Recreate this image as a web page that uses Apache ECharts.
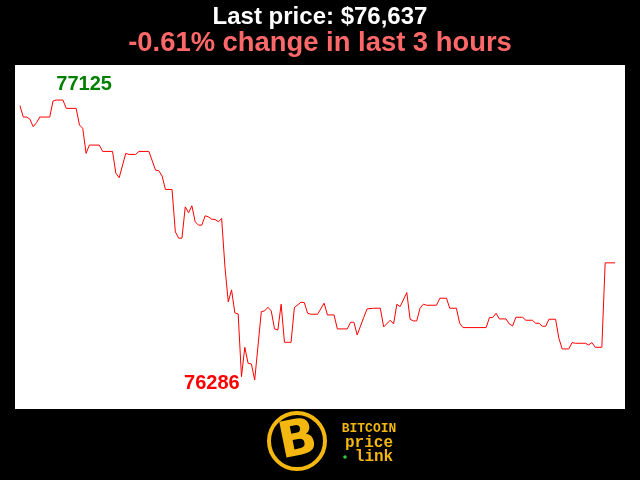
<!DOCTYPE html>
<html>
<head>
<meta charset="utf-8">
<script src="https://cdn.jsdelivr.net/npm/echarts@6/dist/echarts.min.js"></script>
<style>html,body{margin:0;padding:0;background:#000;}#c{width:640px;height:480px;}</style>
</head>
<body>
<div id="c"></div>
<script>
// minutes since start of the 3-hour window
var minutes = [0,1,2,3,4,5,6,9,10,11,13,14,17,18,19,20,21,24,25,28,29,30,32,33,35,36,39,41,42,43,44,46,47,48,49,50,51,52,53,54,55,56,57,58,59,60,61,62,63,64,65,66,67,68,69,70,71,73,74,75,76,77,78,79,80,82,83,85,86,87,88,90,92,93,95,96,99,100,101,102,104,105,107,109,110,112,113,114,115,117,118,119,120,121,122,123,126,127,129,130,132,133,134,141,142,143,144,145,147,148,149,150,152,153,155,156,157,158,159,160,162,163,164,166,167,168,171,172,173,174,176,177,180];
// BTC price (USD)
var prices = [77108,77074,77074,77068,77045,77057,77074,77074,77122,77125,77125,77100,77100,77050,77040,76965,76990,76990,76971,76971,76906,76892,76965,76962,76962,76971,76971,76915,76913,76897,76857,76857,76730,76711,76711,76805,76787,76808,76760,76750,76750,76778,76775,76768,76767,76760,76770,76625,76520,76556,76487,76484,76296,76384,76336,76334,76286,76491,76493,76504,76493,76439,76436,76513,76399,76399,76503,76519,76518,76486,76483,76483,76516,76481,76481,76439,76439,76459,76459,76421,76474,76499,76501,76501,76445,76465,76454,76513,76506,76548,76468,76463,76463,76501,76513,76510,76510,76531,76531,76501,76501,76456,76443,76443,76473,76473,76486,76469,76469,76454,76448,76474,76474,76465,76465,76456,76456,76447,76447,76468,76468,76411,76379,76379,76398,76396,76396,76391,76398,76384,76384,76637,76637];
var titleText = 'Last price: $76,637';
var subText = '-0.61% change in last 3 hours';

var seriesData = minutes.map(function (m, i) { return [m, prices[i]]; });
var gold = '#f4b70f';
var sans = '"Liberation Sans", Arial, sans-serif';

var chart = echarts.init(document.getElementById('c'));
chart.setOption({
  animation: false,
  backgroundColor: '#000',
  title: [
    { text: titleText, left: 'center', top: 5, padding: 0,
      textStyle: { color: '#fff', fontFamily: sans, fontWeight: 'bold', fontSize: 24 } },
    { text: subText, left: 'center', top: 30, padding: 0,
      textStyle: { color: '#ff6868', fontFamily: sans, fontWeight: 'bold', fontSize: 27.4 } }
  ],
  grid: { left: 15, right: 15, top: 65, bottom: 71, show: true, backgroundColor: '#fff', borderWidth: 0 },
  xAxis: { type: 'value', min: -1.5, max: 183, show: false, splitLine: { show: false } },
  yAxis: { type: 'value', min: 76199, max: 77230, show: false, splitLine: { show: false } },
  series: [{
    type: 'line',
    data: seriesData,
    symbol: 'none',
    lineStyle: { color: '#ff0000', width: 1 },
    markPoint: {
      symbol: 'circle',
      symbolSize: 0,
      data: [
        { type: 'max', label: { show: true, formatter: '{c}', position: 'inside', align: 'left', verticalAlign: 'middle', offset: [0, -16],
          color: '#008000', fontFamily: sans, fontWeight: 'bold', fontSize: 20 } },
        { type: 'min', label: { show: true, formatter: '{c}', position: 'inside', align: 'right', verticalAlign: 'middle', offset: [-15, 4],
          color: '#ff0000', fontFamily: sans, fontWeight: 'bold', fontSize: 20 } }
      ]
    }
  }],
  graphic: [
    { type: 'circle', shape: { cx: 297, cy: 441, r: 28 }, style: { fill: 'none', stroke: gold, lineWidth: 4 } },
    { type: 'text', x: 298, y: 442, rotation: 0.2, style: { text: 'B', fill: gold, font: '900 50px "DejaVu Sans", sans-serif', align: 'center', verticalAlign: 'middle' } },
    { type: 'text', x: 369, y: 429, style: { text: 'BITCOIN', fill: gold, font: 'bold 13px "Liberation Mono", monospace', align: 'center', verticalAlign: 'middle' } },
    { type: 'text', x: 369, y: 443, style: { text: 'price', fill: gold, font: 'bold 16px "Liberation Mono", monospace', align: 'center', verticalAlign: 'middle' } },
    { type: 'circle', shape: { cx: 345, cy: 457, r: 1.8 }, style: { fill: '#2ecc40' } },
    { type: 'text', x: 374, y: 457, style: { text: 'link', fill: gold, font: 'bold 16px "Liberation Mono", monospace', align: 'center', verticalAlign: 'middle' } }
  ]
});
</script>
</body>
</html>
